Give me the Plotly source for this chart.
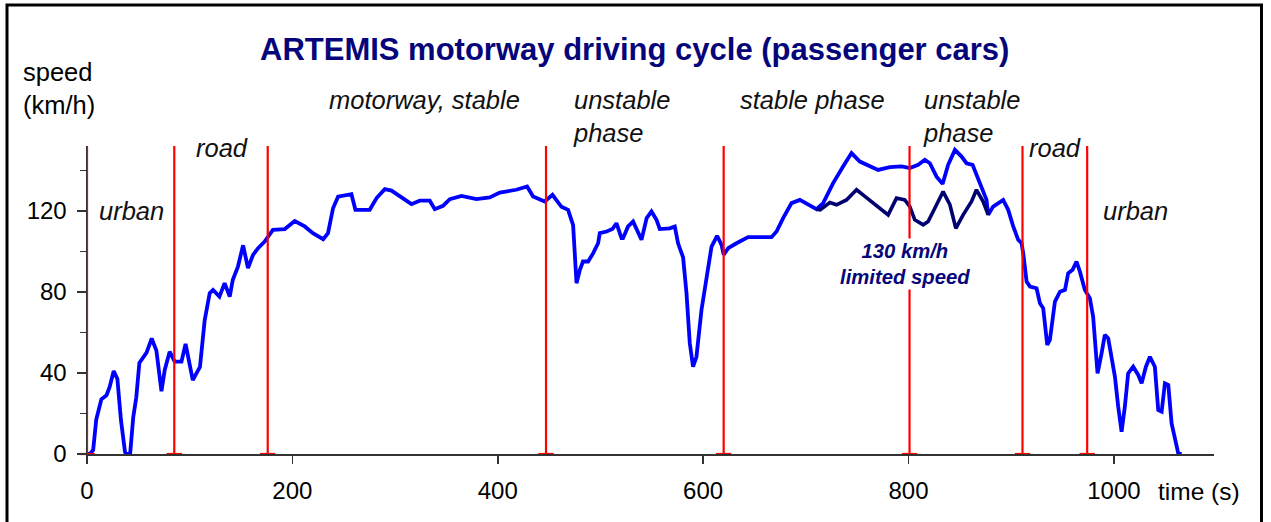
import plotly.graph_objects as go

# ---------------- data ----------------
time_s = [0, 3, 6, 9, 14, 19, 22, 26, 29.6, 33, 37, 38, 42, 45, 48, 51, 58, 63, 67.6, 72.5,
          75.7, 80.5, 85.4, 92, 96, 100, 103, 110, 114.6, 119.5, 122.7, 129, 134, 139, 142, 147,
          152, 156.8, 161.7, 166.6, 173, 181, 192.6, 202.3, 212, 220, 230, 234.7, 239.6, 244.5,
          257.5, 261.4, 275.3, 282, 290, 296.5, 306, 316, 324, 333.8, 338.7, 346.7, 353.3, 364.7,
          379.3, 392.2, 402, 418, 428.6, 434.4, 445.8, 453.3, 462, 468.5, 473.4, 475, 476.7, 480,
          483, 488, 492.8, 497.7, 499.4, 506, 511.7, 515.6, 520.5, 522, 526.9, 531.8, 535.1, 540,
          545, 549.7, 554.6, 557.8, 567.5, 572.4, 575.6, 580.5, 583.8, 587, 590.2, 593.5, 598.4,
          603.3, 606, 608.2, 613.6, 617.9, 620.1, 624.4, 632.5, 643.8, 666.6, 671.5, 677.9, 686.1,
          694.2, 702.3, 710.4, 716.9, 726.6, 736.3, 744.5, 752.6, 762.3, 770.4, 781.8, 793.2, 801.3,
          809.4, 815.9, 820.8, 827.3, 833.2, 838.6, 845.2, 851.7, 856.5, 862.4, 867.8, 872.7, 876,
          877.6, 882.4, 892.2, 897.1, 902, 906.8, 910.1, 911.7, 915, 918.3, 924.7, 928, 931.2,
          935.1, 937.7, 942.6, 947.5, 952.4, 955.5, 959.8, 963.6, 966.9, 971.7, 976.6, 979.8,
          984.1, 988, 991.2, 994.5, 997.8, 1001, 1004.2, 1007.5, 1010.7, 1013.9, 1018.8, 1023.7,
          1027, 1031.2, 1035.1, 1039.9, 1043.2, 1046.5, 1049.7, 1053, 1056.2, 1059.4, 1062.7, 1066]
speed_kmh = [0, 0, 2, 17, 27, 29, 33, 41, 37, 17, 1, 0, 0, 18, 28, 45, 50, 57, 51, 31,
             41.5, 50.5, 45.6, 45.6, 54.3, 43, 36.5, 43, 66, 79.4, 81, 77.7, 84.3, 77.7, 86, 92.5,
             103, 91.7, 98.3, 101.6, 104.8, 110.6, 111, 115, 112.3, 109, 106, 109, 121.3, 127,
             128.2, 120.5, 120.5, 126.3, 130.7, 130, 127, 123.3, 125, 125, 120.8, 122.5, 125.8, 127.4,
             125.8, 126.6, 129, 130.4, 132, 127.1, 124.6, 127.9, 122, 120.5, 113, 100.7, 84.3, 90.9,
             95, 95, 99, 104, 109, 109.8, 111, 113.9, 106.5, 106.5, 112.3, 114.7, 111.4, 105.7,
             116.4, 119.7, 115.6, 111, 111.4, 112.3, 104, 97, 79.4, 54.7, 43.1, 48, 71.1,
             87.6, 95, 102.4, 107.7, 103.2, 98.3, 101.6, 104, 107, 107, 109.8, 116.4, 123.8,
             125.4, 123, 120.8, 123.8, 133.7, 141.9, 148.5, 144.3, 141.9, 140.2, 141.6, 141.9, 141.1,
             142.7, 145.2, 143.5, 136.9, 133.3, 142.7, 150.1, 146.8, 143.5, 142.7, 136.1, 130, 125.4,
             118, 122.1, 125.4, 120.5, 112.3, 105.7, 104, 99.1, 85.1, 82.6, 81.8, 74.4, 71.9,
             53.8, 56.3, 75.2, 80.1, 81, 89.2, 90.9, 95, 90, 81, 76.9, 67.8,
             39.8, 49.7, 58.8, 57.1, 48, 38.2, 23.4, 11, 23.4, 39.8, 43.1, 39,
             34.9, 43.1, 48, 43.1, 21.7, 20.9, 34.9, 34.1, 15.1, 8.6, 0.3, 0]

limited_time_s = [710.4, 714, 723.4, 729.9, 739.6, 749.4, 757.5, 767.2, 773.7, 780.2, 788.3,
                  796.4, 801.3, 806.1, 814.3, 819.1, 827.3, 833.7, 840.3, 846.1, 853.2, 861.4,
                  866.2, 872.7, 877.6]
limited_speed_kmh = [120.8, 120.5, 124.1, 123, 125.4, 130.4, 127.1, 123, 120.5, 118, 126.3,
                     125.4, 122.1, 115.6, 113.1, 114.7, 123, 129.5, 123, 111.4, 118, 124.6,
                     130.4, 124.6, 118]

phase_bounds_s = [0, 85, 176, 447, 620, 801, 911, 974]

x_ticks = [0, 200, 400, 600, 800, 1000]
y_ticks = [0, 40, 80, 120]
y_minor_ticks = [20, 60, 100, 140]
x_range = [0, 1097.5]
y_range = [0, 152]

title_text = "ARTEMIS motorway driving cycle (passenger cars)"
phase_labels = ["urban", "road", "motorway, stable", "unstable<br>phase", "stable phase",
                "unstable<br>phase", "road", "urban"]
limit_note = "130 km/h<br>limited speed"

# ---------------- layout helpers ----------------
W, H = 1271, 522
ML, MR, MT, MB = 87, 57, 146, 68
PW, PH = W - ML - MR, H - MT - MB


def px(x):
    return (x - ML) / PW


def py(y):
    return (H - MB - y) / PH


FONT = "Arial, 'Liberation Sans', sans-serif"
NAVY = "#06067a"
AXC = "#333333"

fig = go.Figure()

fig.add_trace(go.Scatter(x=time_s, y=speed_kmh, mode="lines",
                         line=dict(color="#0000ff", width=3.8), hoverinfo="skip"))
fig.add_trace(go.Scatter(x=limited_time_s, y=limited_speed_kmh, mode="lines",
                         line=dict(color="#000070", width=3.6), hoverinfo="skip"))

# red phase boundary lines with a small foot
bx, by = [], []
for b in phase_bounds_s:
    bx += [b, b, None]
    by += [y_range[0], y_range[1], None]
fig.add_trace(go.Scatter(x=bx, y=by, mode="lines", line=dict(color="#ff0000", width=2.2),
                         hoverinfo="skip"))
fig.add_trace(go.Scatter(x=phase_bounds_s, y=[y_range[0]] * len(phase_bounds_s), mode="markers",
                         marker=dict(symbol="line-ew", size=11,
                                     line=dict(color="#ff0000", width=2.2)),
                         hoverinfo="skip", cliponaxis=False))

ann = []
ann.append(dict(text=title_text, x=px(634), y=py(50), xref="paper", yref="paper",
                xanchor="center", yanchor="middle", showarrow=False,
                font=dict(family=FONT, size=31, color=NAVY, weight="bold")))
ann.append(dict(text="speed<br>(km/h)", x=px(21), y=py(88), xref="paper", yref="paper",
                xanchor="left", yanchor="middle", align="left", showarrow=False,
                font=dict(family=FONT, size=25.5, color="#000000")))
ann.append(dict(text="time (s)", x=px(1156), y=py(491), xref="paper", yref="paper",
                xanchor="left", yanchor="middle", showarrow=False,
                font=dict(family=FONT, size=24.5, color="#000000")))

label_pos = [(97, 211), (194, 148), (327, 100), (571, 116), (738, 100), (921, 116),
             (1027, 148), (1101, 211)]
for txt, (lx, ly) in zip(phase_labels, label_pos):
    ann.append(dict(text=txt, x=px(lx), y=py(ly), xref="paper", yref="paper",
                    xanchor="left", yanchor="middle", align="left", showarrow=False,
                    font=dict(family=FONT, size=25.5, color="#111111", style="italic")))

ann.append(dict(text=limit_note, x=px(905), y=py(264), xref="paper", yref="paper",
                xanchor="center", yanchor="middle", align="center", showarrow=False,
                bgcolor="#ffffff", borderpad=1,
                font=dict(family=FONT, size=20.3, color=NAVY, style="italic", weight="bold")))

fig.update_layout(
    width=W, height=H,
    margin=dict(l=ML, r=MR, t=MT, b=MB),
    paper_bgcolor="#ffffff", plot_bgcolor="#ffffff",
    showlegend=False,
    hovermode=False,
    annotations=ann,
    shapes=[dict(type="rect", xref="paper", yref="paper",
                 x0=px(7), x1=px(1261.5), y0=py(530), y1=py(5),
                 line=dict(color="#000000", width=3), layer="above")],
    xaxis=dict(range=x_range, tickvals=x_ticks, ticks="outside", ticklen=8, tickwidth=1.5,
               tickcolor=AXC, showline=True, linecolor=AXC, linewidth=1.5, showgrid=False,
               zeroline=False, ticklabelstandoff=7,
               tickfont=dict(family=FONT, size=24, color="#000000")),
    yaxis=dict(range=y_range, tickvals=y_ticks, ticks="outside", ticklen=9, tickwidth=1.5,
               tickcolor=AXC, showline=True, linecolor=AXC, linewidth=1.5, showgrid=False,
               zeroline=False, ticklabelstandoff=5,
               tickfont=dict(family=FONT, size=24, color="#000000"),
               minor=dict(tickvals=y_minor_ticks, ticks="outside", ticklen=6,
                          tickwidth=1.5, tickcolor=AXC)),
    xaxis2=dict(range=x_range, overlaying="x", anchor="y", side="bottom", tickvals=x_ticks,
                ticks="inside", ticklen=7, tickwidth=1.5, tickcolor=AXC, showticklabels=False,
                showline=False, showgrid=False, zeroline=False),
    yaxis2=dict(range=y_range, overlaying="y", anchor="x", side="left", tickvals=y_ticks,
                ticks="inside", ticklen=7, tickwidth=1.5, tickcolor=AXC, showticklabels=False,
                showline=False, showgrid=False, zeroline=False),
)

fig.write_html("out.html", config={"displayModeBar": False, "staticPlot": True},
               post_script="document.body.style.margin='0px';")
